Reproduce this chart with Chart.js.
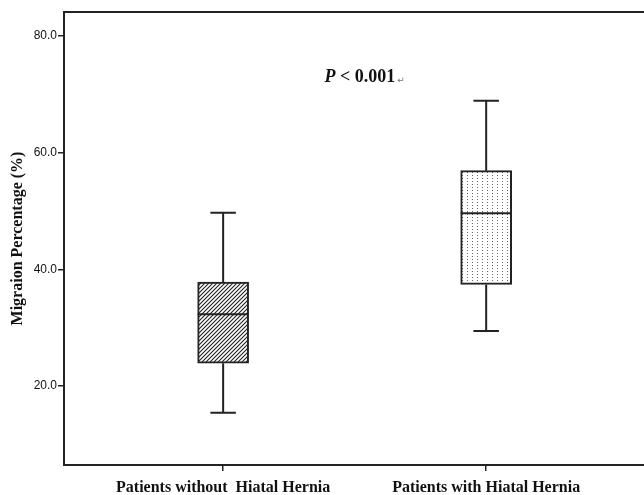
<!DOCTYPE html>
<html>
<head>
<meta charset="utf-8">
<script src="https://cdn.jsdelivr.net/npm/chart.js@4/dist/chart.umd.min.js"></script>
<style>
  html, body { margin: 0; padding: 0; background: #fff; }
</style>
</head>
<body>
<canvas id="boxChart" width="644" height="495"></canvas>
<script>
// data
const groups = ["Patients without  Hiatal Hernia", "Patients with Hiatal Hernia"];
const whiskerLow = [15.4, 29.4];
const q1 = [23.9, 37.4];
const median = [32.3, 49.6];
const q3 = [37.8, 56.9];
const whiskerHigh = [49.7, 68.9];
const yTicks = [20, 40, 60, 80];

const ink = "#222";

// fill patterns for the two boxes
function makeHatch() {
  let c = document.createElement("canvas");
  c.width = 4; c.height = 4;
  let g = c.getContext("2d");
  g.fillStyle = "#fff";
  g.fillRect(0, 0, 4, 4);
  g.strokeStyle = "#222";
  g.lineWidth = 1.1;
  g.beginPath();
  g.moveTo(-1, 5); g.lineTo(5, -1);
  g.moveTo(-1, 1); g.lineTo(1, -1);
  g.moveTo(3, 5); g.lineTo(5, 3);
  g.stroke();
  return g.createPattern(c, "repeat");
}

function makeDots() {
  let c = document.createElement("canvas");
  c.width = 5; c.height = 3;
  let g = c.getContext("2d");
  g.fillStyle = "#fff";
  g.fillRect(0, 0, 5, 3);
  g.fillStyle = "#666";
  g.fillRect(2, 1, 1, 1);
  return g.createPattern(c, "repeat");
}

const boxExtras = {
  id: "boxExtras",
  afterDatasetsDraw(chart) {
    const { ctx, chartArea } = chart;
    const x = chart.scales.x, y = chart.scales.y;
    const bars = chart.getDatasetMeta(0).data;
    ctx.save();
    ctx.strokeStyle = ink;
    ctx.lineWidth = 2;
    groups.forEach((g, i) => {
      let cx = x.getPixelForValue(i + 1);
      let half = bars[i].width / 2;
      let cap = half / 2;
      ctx.beginPath();
      // whiskers
      ctx.moveTo(cx, y.getPixelForValue(whiskerHigh[i]));
      ctx.lineTo(cx, y.getPixelForValue(q3[i]));
      ctx.moveTo(cx, y.getPixelForValue(q1[i]));
      ctx.lineTo(cx, y.getPixelForValue(whiskerLow[i]));
      // caps
      ctx.moveTo(cx - cap, y.getPixelForValue(whiskerHigh[i]));
      ctx.lineTo(cx + cap, y.getPixelForValue(whiskerHigh[i]));
      ctx.moveTo(cx - cap, y.getPixelForValue(whiskerLow[i]));
      ctx.lineTo(cx + cap, y.getPixelForValue(whiskerLow[i]));
      // median
      ctx.moveTo(cx - half, y.getPixelForValue(median[i]));
      ctx.lineTo(cx + half, y.getPixelForValue(median[i]));
      ctx.stroke();
    });
    // top frame line (right edge runs off the picture)
    ctx.beginPath();
    ctx.moveTo(chartArea.left, chartArea.top);
    ctx.lineTo(chart.width, chartArea.top);
    ctx.stroke();

    // p value note
    let px = x.getPixelForValue(1.52), py = y.getPixelForValue(72.9);
    ctx.fillStyle = "#111";
    ctx.textBaseline = "middle";
    ctx.font = "italic bold 18px 'Liberation Serif'";
    let wP = ctx.measureText("P").width;
    ctx.font = "bold 18px 'Liberation Serif'";
    let rest = " < 0.001";
    let wR = ctx.measureText(rest).width;
    let sx = px - (wP + wR) / 2;
    ctx.font = "italic bold 18px 'Liberation Serif'";
    ctx.textAlign = "left";
    ctx.fillText("P", sx, py);
    ctx.font = "bold 18px 'Liberation Serif'";
    ctx.fillText(rest, sx + wP, py);
    ctx.font = "9px 'DejaVu Sans'";
    ctx.fillStyle = "#777";
    ctx.fillText("\u21B5", sx + wP + wR + 2, py + 3);
    ctx.restore();
  }
};

let boxChart = new Chart(document.getElementById("boxChart"), {
  type: "bar",
  data: {
    datasets: [
      {
        label: "IQR",
        data: groups.map((g, i) => ({ x: i + 1, y: [q1[i], q3[i]] })),
        backgroundColor: [makeHatch(), makeDots()],
        borderColor: ink,
        borderWidth: 2,
        borderSkipped: false,
        barThickness: 51,
      },
    ],
  },
  options: {
    responsive: false,
    animation: false,
    devicePixelRatio: 1,
    layout: { padding: { top: 12, left: 0, right: 0, bottom: 0 } },
    plugins: { legend: { display: false }, tooltip: { enabled: false } },
    scales: {
      x: {
        type: "linear",
        offset: false,
        min: 0.395,
        max: 2.6,
        afterBuildTicks: (s) => { s.ticks = groups.map((g, i) => ({ value: i + 1 })); },
        afterFit: (s) => { s.height = 30; },
        grid: { offset: false, drawOnChartArea: false, drawTicks: true, tickLength: 6, color: ink, lineWidth: 1.5 },
        border: { display: true, color: ink, width: 2 },
        ticks: {
          autoSkip: false,
          maxRotation: 0,
          padding: 7,
          color: "#111",
          font: { family: "'Liberation Serif'", size: 16, weight: "bold" },
          callback: (v) => groups[v - 1],
        },
      },
      y: {
        min: 6.45,
        max: 84.1,
        afterBuildTicks: (s) => { s.ticks = yTicks.map((v) => ({ value: v })); },
        afterFit: (s) => { s.width = 64; },
        grid: { drawOnChartArea: false, drawTicks: true, tickLength: 6, color: ink, lineWidth: 1.5 },
        border: { display: true, color: ink, width: 2 },
        ticks: {
          padding: 1,
          color: "#111",
          font: { family: "'Liberation Sans'", size: 12 },
          callback: (v) => v.toFixed(1),
        },
        title: {
          display: true,
          text: "Migraion Percentage (%)",
          color: "#111",
          font: { family: "'Liberation Serif'", size: 16, weight: "bold" },
          padding: { top: 8, bottom: 0 },
        },
      },
    },
  },
  plugins: [boxExtras],
});
</script>
</body>
</html>
